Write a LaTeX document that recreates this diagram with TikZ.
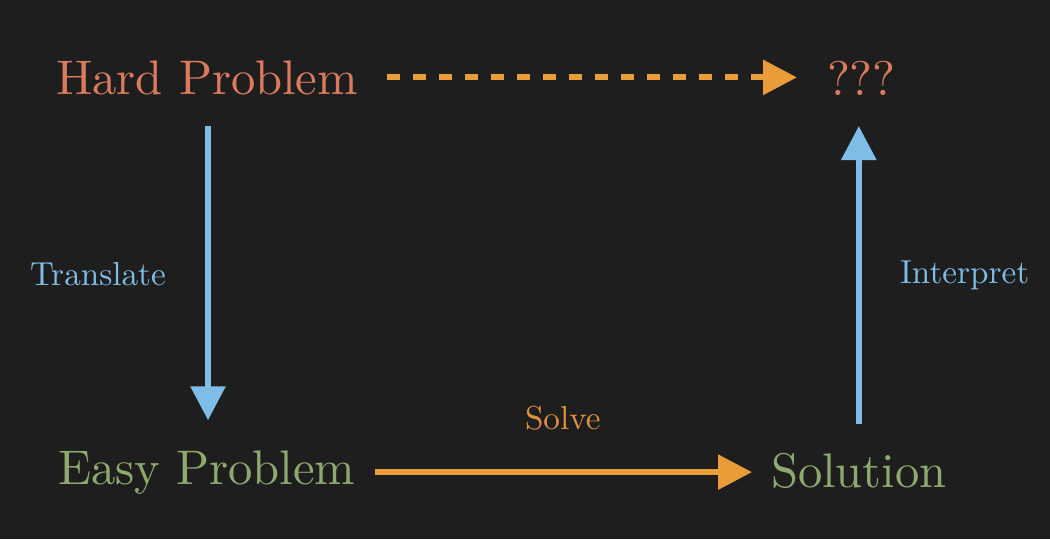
\documentclass[tikz,border=0pt]{standalone}
\usetikzlibrary{arrows.meta}
\definecolor{bgc}{HTML}{1E1E1E}
\definecolor{hardc}{HTML}{DB7B5C}
\definecolor{easyc}{HTML}{8DAA6E}
\definecolor{arrblue}{HTML}{80BDE6}
\definecolor{arrorange}{HTML}{E89D38}
\definecolor{solvec}{HTML}{E0913A}
\tikzset{
  bigtxt/.style={inner sep=0pt, outer sep=0pt, scale=4.86, anchor=base west},
  lbltxt/.style={inner sep=0pt, outer sep=0pt, scale=3.32, anchor=base west},
  conn/.style={line width=6pt, -{Triangle[width=34pt,length=34pt]}},
}
\begin{document}
\begin{tikzpicture}[x=1pt,y=-1pt]
\fill[bgc] (0,0) rectangle (1050,539);
\useasboundingbox (0,0) rectangle (1050,539);
\node[bigtxt, text=hardc] (hp) at (56,94) {Hard Problem};
\node[bigtxt, text=hardc] (q) at (827,95) {???};
\node[bigtxt, text=easyc] (ep) at (58,484) {Easy Problem};
\node[bigtxt, text=easyc] (sol) at (771,487) {Solution};
\node[lbltxt, text=arrblue] (tr) at (30,285) {Translate};
\node[lbltxt, text=arrblue] (ip) at (900,283) {Interpret};
\node[lbltxt, text=solvec] (sv) at (525,429) {Solve};
\draw[conn, arrblue, shorten <=31pt, shorten >=30pt] ([xshift=1pt]hp.south) -- ([xshift=1pt]hp.south |- ep.north);
\draw[conn, arrblue, shorten <=29pt, shorten >=31pt] (sol.north) -- (sol.north |- q.south);
\draw[conn, arrorange, dash pattern=on 13pt off 13pt, shorten <=29pt, shorten >=30pt] (hp.east) -- (hp.east -| q.west);
\draw[conn, arrorange, shorten <=20pt, shorten >=19pt] (ep.east) -- (ep.east -| sol.west);
\end{tikzpicture}
\end{document}
